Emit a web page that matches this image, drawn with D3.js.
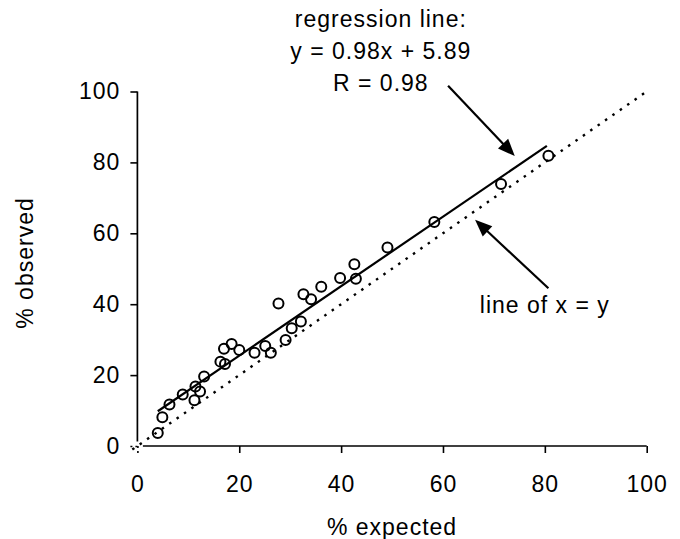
<!DOCTYPE html>
<html>
<head>
<meta charset="utf-8">
<script src="https://cdn.jsdelivr.net/npm/d3@7"></script>
<style>
  html, body { margin: 0; padding: 0; background: #fff; }
  svg { display: block; }
  text { font-family: "Liberation Sans", Arial, sans-serif; fill: #000; }
</style>
</head>
<body>
<svg id="chart" width="680" height="539"></svg>
<script>
// ---- data ----
const expected = [4.0, 4.9, 6.3, 8.9, 11.2, 11.4, 12.3, 13.1, 16.3, 17.2, 17.0, 18.5, 20.0, 23.0, 25.1, 26.2, 27.7, 29.1, 30.3, 32.1, 32.6, 34.1, 36.1, 39.8, 42.6, 42.9, 49.1, 58.3, 71.4, 80.7];
const observed = [3.7, 8.1, 11.7, 14.5, 12.9, 16.8, 15.4, 19.6, 23.8, 23.1, 27.4, 28.8, 27.1, 26.3, 28.2, 26.3, 40.2, 29.9, 33.2, 35.1, 42.8, 41.4, 44.9, 47.4, 51.3, 47.2, 56.0, 63.2, 73.9, 81.9];
const xTicks = [0, 20, 40, 60, 80, 100];
const yTicks = [0, 20, 40, 60, 80, 100];
const slope = 0.98, intercept = 5.89;
const regRange = [4.0, 80.4];
const identityRange = [0, 100];
const titleLines = ["regression line:", "y = 0.98x + 5.89", "R = 0.98"];
const identityLabel = "line of x = y";
const xLabel = "% expected", yLabel = "% observed";
// annotation arrows in data units: [fromX, fromY, toX, toY]
const arrows = [[61.0, 101.6, 74.1, 81.8], [80.7, 44.5, 66.3, 63.8]];

// ---- scales ----
const svg = d3.select("#chart");
const x = d3.scaleLinear().domain([0, 100]).range([137.4, 646.7]);
const y = d3.scaleLinear().domain([0, 100]).range([446, 91.5]);
const FS = 23;

// ---- axes ----
const gx = svg.append("g").attr("transform", `translate(0,${y(0)})`)
  .call(d3.axisBottom(x).tickValues(xTicks).tickSize(7).tickPadding(20).tickFormat(d3.format("d")));
const gy = svg.append("g").attr("transform", `translate(${x(0)},0)`)
  .call(d3.axisLeft(y).tickValues(yTicks).tickSize(7).tickPadding(10).tickFormat(d3.format("d")));
[gx, gy].forEach(g => {
  g.select(".domain").remove();
  g.selectAll(".tick line").attr("stroke", "#000").attr("stroke-width", 1.6);
  g.selectAll(".tick text").attr("font-size", FS).attr("letter-spacing", 1)
    .attr("font-family", "Liberation Sans, Arial, sans-serif").attr("fill", "#000");
});
gx.selectAll(".tick text").attr("dy", null).attr("y", 46).attr("dominant-baseline", "auto");
gx.selectAll(".tick").filter(d => d === 0).select("line").attr("stroke-dasharray", "2,3");
gy.selectAll(".tick").filter(d => d === 0).select("line").attr("stroke-dasharray", "2,3");

// axis lines (leave a small gap at the origin as in the reference)
svg.append("line").attr("x1", x(0)).attr("x2", x(0)).attr("y1", y(100)).attr("y2", y(0) - 4.5)
  .attr("stroke", "#000").attr("stroke-width", 1.7);
svg.append("line").attr("x1", x(0) + 5.5).attr("x2", x(100)).attr("y1", y(0)).attr("y2", y(0))
  .attr("stroke", "#000").attr("stroke-width", 1.7);

// ---- identity (x = y) dotted line ----
svg.append("line")
  .attr("x1", x(identityRange[0] - 1)).attr("y1", y(identityRange[0] - 1))
  .attr("x2", x(identityRange[1])).attr("y2", y(identityRange[1]))
  .attr("stroke", "#000").attr("stroke-width", 2.4).attr("stroke-dasharray", "2.5,6.5");

// ---- regression line ----
svg.append("line")
  .attr("x1", x(regRange[0])).attr("y1", y(slope * regRange[0] + intercept))
  .attr("x2", x(regRange[1])).attr("y2", y(slope * regRange[1] + intercept))
  .attr("stroke", "#000").attr("stroke-width", 2.2);

// ---- points ----
svg.append("g").selectAll("circle").data(expected.map((e, i) => [e, observed[i]]))
  .join("circle")
  .attr("cx", d => x(d[0])).attr("cy", d => y(d[1])).attr("r", 5)
  .attr("fill", "none").attr("stroke", "#000").attr("stroke-width", 2);

// ---- arrows ----
arrows.forEach(a => {
  const x1 = x(a[0]), y1 = y(a[1]), x2 = x(a[2]), y2 = y(a[3]);
  const ang = Math.atan2(y2 - y1, x2 - x1);
  const L = 17, W = 7;
  const bx = x2 - L * Math.cos(ang), by = y2 - L * Math.sin(ang);
  svg.append("line").attr("x1", x1).attr("y1", y1).attr("x2", bx + 2 * Math.cos(ang)).attr("y2", by + 2 * Math.sin(ang))
    .attr("stroke", "#000").attr("stroke-width", 2.2);
  const p = [[x2, y2],
    [bx + W * Math.sin(ang), by - W * Math.cos(ang)],
    [bx - W * Math.sin(ang), by + W * Math.cos(ang)]];
  svg.append("path").attr("d", "M" + p.map(q => q.join(",")).join("L") + "Z").attr("fill", "#000");
});

// ---- annotation text ----
const tx = x(47.8);
[27, 59, 90.5].forEach((by, i) => {
  svg.append("text").attr("x", tx).attr("y", by).attr("text-anchor", "middle")
    .attr("font-size", FS).attr("letter-spacing", 1).text(titleLines[i]);
});
svg.append("text").attr("x", x(80.0)).attr("y", 313).attr("text-anchor", "middle")
  .attr("font-size", FS).attr("letter-spacing", 1).text(identityLabel);

// ---- axis titles ----
svg.append("text").attr("x", (x(0) + x(100)) / 2).attr("y", 535).attr("text-anchor", "middle")
  .attr("font-size", FS).attr("letter-spacing", 1).text(xLabel);
svg.append("text").attr("transform", `translate(33,263) rotate(-90)`).attr("text-anchor", "middle")
  .attr("font-size", FS).attr("letter-spacing", 1).text(yLabel);
</script>
</body>
</html>
